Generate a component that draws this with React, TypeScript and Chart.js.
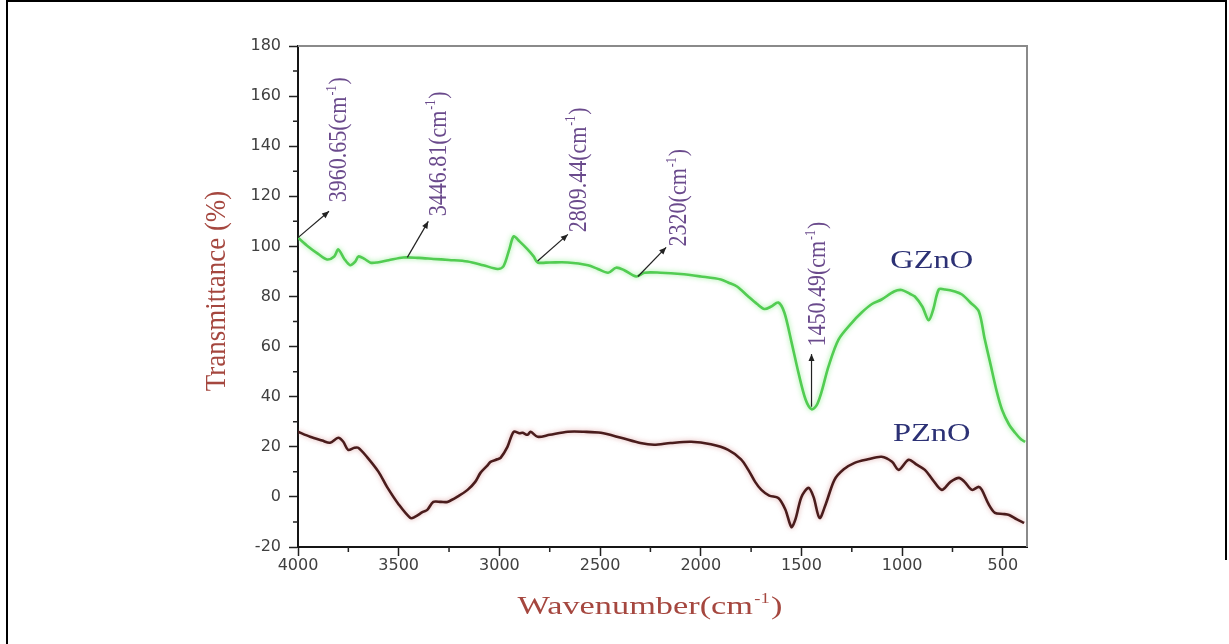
import React, { useEffect, useRef } from 'react';
import { Chart, registerables } from 'chart.js';

Chart.register(...registerables);

// ---------------- data ----------------
const gznoWavenumber = [
  4000, 3950, 3900, 3856, 3820, 3800, 3770, 3741, 3715, 3700, 3670, 3640, 3607, 3550, 3477, 3400,
  3328, 3250, 3158, 3080, 3009, 2980, 2950, 2929, 2900, 2860, 2830, 2810, 2750, 2660, 2560, 2511,
  2460, 2420, 2380, 2320, 2280, 2200, 2100, 2000, 1900, 1864, 1820, 1764, 1720, 1684, 1650, 1615,
  1585, 1550, 1515, 1480, 1450, 1425, 1400, 1366, 1316, 1250, 1201, 1150, 1102, 1040, 1002, 960,
  937, 900, 868, 845, 818, 787, 738, 703, 660, 619, 590, 563, 530, 504, 470, 439, 410, 389,
];
const gznoTransmittance = [
  103.5, 100, 97, 94.8, 96, 98.8, 95, 92.5, 94, 96, 95, 93.5, 93.6, 94.5, 95.6, 95.4,
  95, 94.6, 94, 92.5, 91, 92, 99, 104, 102, 98.8, 96, 93.6, 93.6, 93.6, 92.5, 91,
  89.5, 91.5, 90.5, 88, 89.5, 89.5, 89, 88, 86.8, 85.6, 84, 80, 77, 75, 76, 77.6,
  73.6, 62, 49.6, 39, 35, 36.5, 42, 52, 62.8, 69.5, 73.6, 77, 78.8, 82, 82.6, 81,
  80, 76, 70.5, 75, 82.8, 82.8, 82, 80.8, 77.5, 74, 63, 53.6, 42, 34.8, 29, 25.6, 23, 22,
];
const pznoWavenumber = [
  4000, 3940, 3880, 3841, 3800, 3775, 3751, 3720, 3701, 3658, 3600, 3558, 3500, 3442, 3420, 3380,
  3358, 3328, 3290, 3258, 3200, 3158, 3120, 3094, 3060, 3044, 3010, 2994, 2960, 2929, 2900, 2885,
  2860, 2845, 2810, 2750, 2660, 2580, 2496, 2396, 2300, 2232, 2150, 2048, 1950, 1864, 1800, 1764,
  1730, 1699, 1660, 1615, 1580, 1550, 1530, 1500, 1465, 1440, 1410, 1380, 1336, 1290, 1236, 1170,
  1102, 1050, 1017, 968, 930, 887, 850, 803, 760, 718, 690, 653, 620, 604, 570, 539, 500, 469, 430, 394,
];
const pznoTransmittance = [
  26, 24, 22.5, 21.6, 23.6, 22, 18.8, 19.6, 19.6, 16, 10, 4, -3, -8.4, -8, -6,
  -5.2, -2, -2, -2, 0.5, 2.8, 6, 9.6, 12.5, 14, 15, 15.6, 20, 26, 25.4, 25.6,
  24.8, 26, 24, 24.8, 26, 26, 25.6, 23.6, 21.5, 20.8, 21.5, 22, 21, 18.8, 15, 10.8,
  6, 2.8, 0.5, -0.4, -5, -12, -9, 0, 3.6, 0, -8.4, -3, 6.8, 11, 13.6, 15,
  16, 14, 10.8, 14.8, 13, 10.8, 7, 2.8, 6, 7.6, 6, 2.8, 4, 2.8, -3, -6.4, -6.8, -7.2, -9, -10.4,
];

const xMajorTicks = [4000, 3500, 3000, 2500, 2000, 1500, 1000, 500];
const xMinorTicks = [3750, 3250, 2750, 2250, 1750, 1250, 750];
const yMajorTicks = [-20, 0, 20, 40, 60, 80, 100, 120, 140, 160, 180];
const yMinorTicks = [-10, 10, 30, 50, 70, 90, 110, 130, 150, 170];

const seriesNames = ['GZnO', 'PZnO'];
const peakLabels = ['3960.65', '3446.81', '2809.44', '2320', '1450.49'];
// anchors in data units: text start [wavenumber, %], arrow from, arrow to
const peakTextAt = [[3801, 117.6], [3308, 112], [2611, 105.6], [2113, 100], [1423, 60]];
const peakArrowFrom = [[4000, 103.5], [3457, 95.6], [2810, 94.2], [2312, 88], [1450, 36]];
const peakArrowTo = [[3846, 114], [3353, 110], [2660, 104.8], [2172, 99.6], [1450, 57]];
const seriesLabelAt = [[853, 94.8], [853, 25.6]];

const SERIF = '"Liberation Serif", "Times New Roman", serif';

function toPts(xs: number[], ys: number[]) {
  return xs.map((x, i) => ({ x, y: ys[i] }));
}

function arrow(ctx: CanvasRenderingContext2D, x1: number, y1: number, x2: number, y2: number) {
  ctx.save();
  ctx.strokeStyle = '#222';
  ctx.fillStyle = '#222';
  ctx.lineWidth = 1.2;
  ctx.beginPath();
  ctx.moveTo(x1, y1);
  ctx.lineTo(x2, y2);
  ctx.stroke();
  const a = Math.atan2(y2 - y1, x2 - x1);
  const L = 7, W = 3;
  ctx.beginPath();
  ctx.moveTo(x2, y2);
  ctx.lineTo(x2 - L * Math.cos(a) + W * Math.sin(a), y2 - L * Math.sin(a) - W * Math.cos(a));
  ctx.lineTo(x2 - L * Math.cos(a) - W * Math.sin(a), y2 - L * Math.sin(a) + W * Math.cos(a));
  ctx.closePath();
  ctx.fill();
  ctx.restore();
}

function drawSupText(
  ctx: CanvasRenderingContext2D,
  main: string,
  sup: string,
  tail: string,
  size: number,
  startX: number,
  baseY: number
) {
  ctx.font = `${size}px ${SERIF}`;
  ctx.fillText(main, startX, baseY);
  let off = startX + ctx.measureText(main).width;
  const supSize = Math.round(size * 0.55);
  ctx.font = `${supSize}px ${SERIF}`;
  ctx.fillText(sup, off + 1, baseY - size * 0.42);
  off += ctx.measureText(sup).width + 2;
  ctx.font = `${size}px ${SERIF}`;
  ctx.fillText(tail, off, baseY);
}

function supWidth(ctx: CanvasRenderingContext2D, main: string, sup: string, tail: string, size: number) {
  ctx.font = `${size}px ${SERIF}`;
  let w = ctx.measureText(main).width + ctx.measureText(tail).width;
  ctx.font = `${Math.round(size * 0.55)}px ${SERIF}`;
  w += ctx.measureText(sup).width + 2;
  return w;
}

const decorPlugin = {
  id: 'decor',
  beforeDatasetDraw(chart: any, args: any) {
    const ctx = chart.ctx;
    ctx.save();
    const ds = chart.data.datasets[args.index];
    ctx.shadowColor = ds.glowColor;
    ctx.shadowBlur = 5;
  },
  afterDatasetDraw(chart: any) {
    chart.ctx.restore();
  },
  afterDraw(chart: any) {
    const ctx: CanvasRenderingContext2D = chart.ctx;
    const xs = chart.scales.x;
    const ys = chart.scales.y;
    const { left, right, top, bottom } = chart.chartArea;

    // top & right frame
    ctx.save();
    ctx.strokeStyle = '#8a8a8a';
    ctx.lineWidth = 2;
    ctx.beginPath();
    ctx.moveTo(left, top);
    ctx.lineTo(right, top);
    ctx.lineTo(right, bottom);
    ctx.stroke();

    // minor ticks
    ctx.strokeStyle = '#222';
    ctx.lineWidth = 1.5;
    ctx.beginPath();
    yMinorTicks.forEach((v) => {
      const py = ys.getPixelForValue(v);
      ctx.moveTo(left - 5, py);
      ctx.lineTo(left, py);
    });
    xMinorTicks.forEach((v) => {
      const px = xs.getPixelForValue(v);
      ctx.moveTo(px, bottom);
      ctx.lineTo(px, bottom + 5);
    });
    ctx.stroke();
    ctx.restore();

    // peak annotations
    peakLabels.forEach((lab, i) => {
      const fx = xs.getPixelForValue(peakArrowFrom[i][0]);
      const fy = ys.getPixelForValue(peakArrowFrom[i][1]);
      const tx = xs.getPixelForValue(peakArrowTo[i][0]);
      const ty = ys.getPixelForValue(peakArrowTo[i][1]);
      arrow(ctx, fx, fy, tx, ty);
      const ax = xs.getPixelForValue(peakTextAt[i][0]);
      const ay = ys.getPixelForValue(peakTextAt[i][1]);
      const size = 22;
      ctx.save();
      ctx.translate(ax, ay);
      ctx.rotate(-Math.PI / 2);
      ctx.scale(1, 1.15);
      ctx.fillStyle = '#6a4a8c';
      ctx.textAlign = 'left';
      ctx.textBaseline = 'alphabetic';
      drawSupText(ctx, lab + '(cm', '-1', ')', size, 0, size * 0.33);
      ctx.restore();
    });

    // series labels
    seriesNames.forEach((name, i) => {
      const px = xs.getPixelForValue(seriesLabelAt[i][0]);
      const py = ys.getPixelForValue(seriesLabelAt[i][1]);
      ctx.save();
      ctx.translate(px, py);
      ctx.scale(1.3, 1);
      ctx.fillStyle = '#2c3175';
      ctx.font = `25px ${SERIF}`;
      ctx.textAlign = 'center';
      ctx.textBaseline = 'alphabetic';
      ctx.fillText(name, 0, 8.5);
      ctx.restore();
    });

    // x title
    ctx.save();
    const titleColor = '#a5473f';
    const xSize = 26;
    ctx.fillStyle = titleColor;
    ctx.textAlign = 'left';
    ctx.textBaseline = 'alphabetic';
    const tw = supWidth(ctx, 'Wavenumber(cm', '-1', ')', xSize);
    ctx.translate(650, 614);
    ctx.scale(1.32, 1);
    drawSupText(ctx, 'Wavenumber(cm', '-1', ')', xSize, -tw / 2, 0);
    ctx.restore();

    // y title
    ctx.save();
    ctx.fillStyle = titleColor;
    ctx.translate(215, 291);
    ctx.rotate(-Math.PI / 2);
    ctx.scale(1, 1.12);
    ctx.font = `27px ${SERIF}`;
    ctx.textAlign = 'center';
    ctx.textBaseline = 'alphabetic';
    ctx.fillText('Transmittance (%)', 0, 27 * 0.33);
    ctx.restore();
  },
};

export default function App() {
  const canvasRef = useRef<HTMLCanvasElement | null>(null);

  useEffect(() => {
    if (!canvasRef.current) return;
    const tickFont = { family: '"DejaVu Sans", sans-serif', size: 16 };
    const chart = new Chart(canvasRef.current, {
      type: 'line',
      data: {
        datasets: [
          {
            label: seriesNames[0],
            data: toPts(gznoWavenumber, gznoTransmittance),
            borderColor: '#52cc52',
            borderWidth: 2.6,
            pointRadius: 0,
            tension: 0.3,
            fill: false,
            glowColor: 'rgba(140, 235, 140, 0.9)',
          } as any,
          {
            label: seriesNames[1],
            data: toPts(pznoWavenumber, pznoTransmittance),
            borderColor: '#4a1c1c',
            borderWidth: 2.6,
            pointRadius: 0,
            tension: 0.3,
            fill: false,
            glowColor: 'rgba(200, 110, 110, 0.6)',
          } as any,
        ],
      },
      options: {
        animation: false,
        responsive: false,
        maintainAspectRatio: false,
        layout: { padding: { left: 0, top: 46, right: 202, bottom: 0 } },
        plugins: { legend: { display: false }, tooltip: { enabled: false } },
        scales: {
          x: {
            type: 'linear',
            reverse: true,
            min: 380,
            max: 4000,
            afterBuildTicks: (s: any) => {
              s.ticks = xMajorTicks.map((v) => ({ value: v }));
            },
            afterFit: (s: any) => {
              s.height = 97;
            },
            ticks: {
              autoSkip: false,
              maxRotation: 0,
              font: tickFont,
              color: '#404040',
              padding: 0,
              callback: (v: any) => String(v),
            },
            grid: {
              drawOnChartArea: false,
              drawTicks: true,
              tickLength: 9,
              tickColor: '#222',
              tickWidth: 1.5,
            },
            border: { display: true, color: '#151515', width: 2 },
          },
          y: {
            type: 'linear',
            min: -20,
            max: 180,
            afterBuildTicks: (s: any) => {
              s.ticks = yMajorTicks.map((v) => ({ value: v }));
            },
            afterFit: (s: any) => {
              s.width = 298;
            },
            ticks: {
              autoSkip: false,
              font: tickFont,
              color: '#404040',
              padding: 8,
              callback: (v: any) => String(v),
            },
            grid: {
              drawOnChartArea: false,
              drawTicks: true,
              tickLength: 9,
              tickColor: '#222',
              tickWidth: 1.5,
            },
            border: { display: true, color: '#151515', width: 2 },
          },
        },
      },
      plugins: [decorPlugin],
    });
    return () => chart.destroy();
  }, []);

  return (
    <div
      style={{
        position: 'fixed',
        left: 0,
        top: 0,
        width: 1229,
        height: 644,
        background: '#fff',
        overflow: 'hidden',
      }}
    >
      <canvas ref={canvasRef} width={1229} height={644} style={{ position: 'absolute', left: 0, top: 0 }} />
      <div style={{ position: 'absolute', left: 6, top: 0, width: 1221, height: 2, background: '#000' }} />
      <div style={{ position: 'absolute', left: 6, top: 0, width: 2, height: 644, background: '#000' }} />
      <div style={{ position: 'absolute', left: 1225, top: 0, width: 2, height: 560, background: '#000' }} />
    </div>
  );
}
